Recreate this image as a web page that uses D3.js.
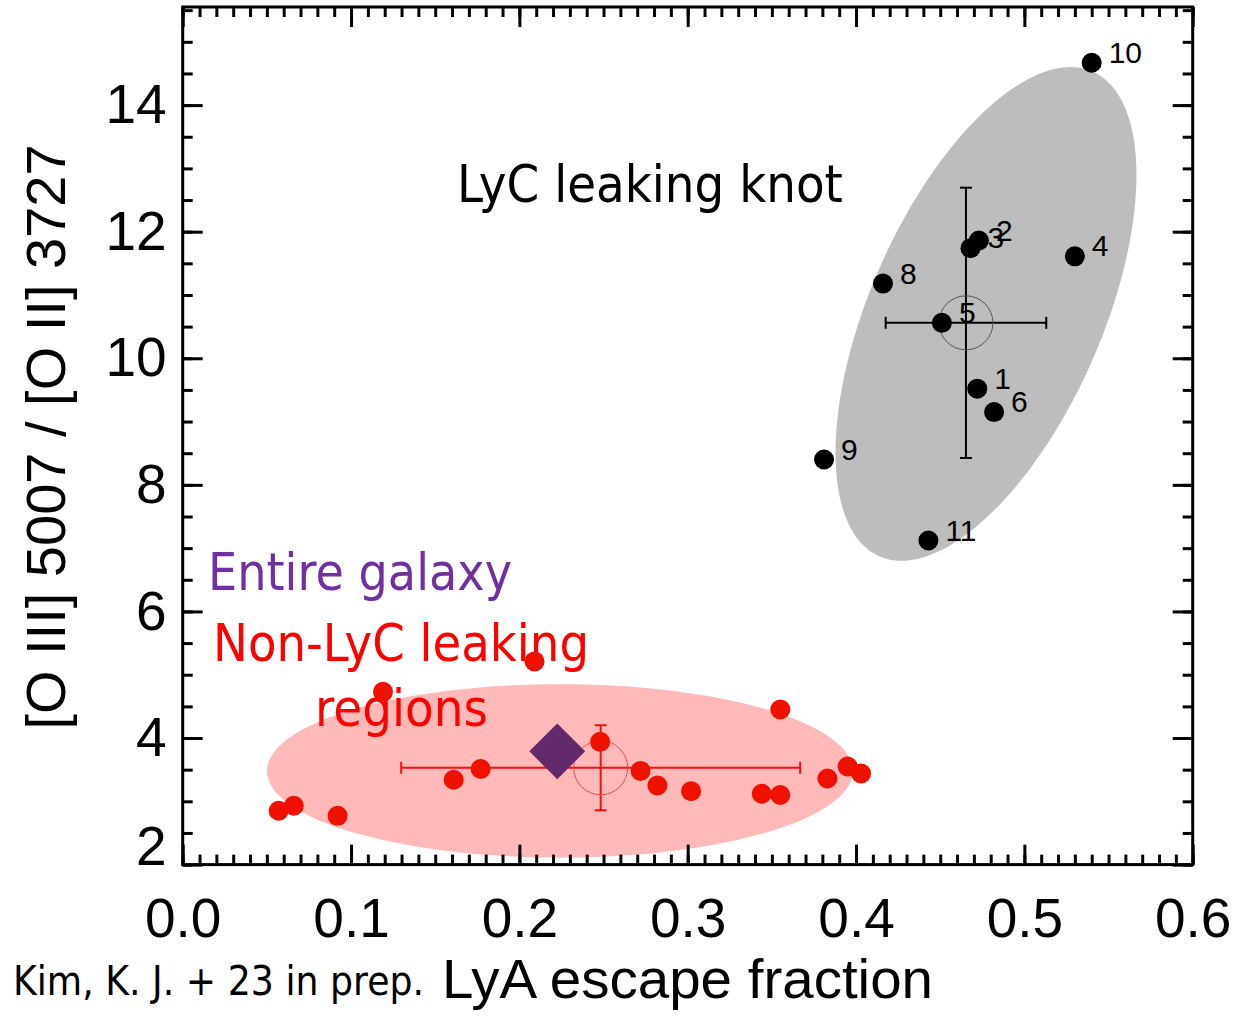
<!DOCTYPE html>
<html>
<head>
<meta charset="utf-8">
<style>
  body { margin: 0; background: #fff; }
  text { font-family: "Liberation Sans", Arial, sans-serif; }
</style>
</head>
<body>
<script src="https://cdn.jsdelivr.net/npm/d3@7"></script>
<script>

// *** DATA ***

// LyC leaking knot (black points, numbered)
var knotId = [1, 2, 3, 4, 5, 6, 8, 9, 10, 11];
var knotX  = [0.472, 0.473, 0.468, 0.530, 0.451, 0.482, 0.416, 0.381, 0.540, 0.443];
var knotY  = [9.52, 11.86, 11.74, 11.61, 10.56, 9.15, 11.18, 8.40, 14.67, 7.12];

// Non-LyC leaking regions (red points)
var regionX = [0.057, 0.066, 0.092, 0.119, 0.161, 0.177, 0.209, 0.248, 0.272,
               0.282, 0.302, 0.344, 0.355, 0.355, 0.383, 0.395, 0.403];
var regionY = [2.85, 2.93, 2.77, 4.73, 3.34, 3.51, 5.21, 3.94, 3.48,
               3.25, 3.16, 3.12, 3.10, 4.45, 3.36, 3.55, 3.44];

// Entire galaxy (diamond)
var galaxyX = [0.2225];
var galaxyY = [3.79];

// Means with errors: [x, y, xerr, yerr]
var knotMean   = [0.4653, 10.56, 0.0477, 2.135];
var regionMean = [0.2483, 3.53, 0.1185, 0.672];

// Ellipses: center, then two semi-axis vectors (data units)
var knotEllipse   = {c: [0.4772, 10.70], u: [0.0633, 3.83], v: [0.0631, -0.736]};
var regionEllipse = {c: [0.2241, 3.48],  u: [0.174, 0],     v: [0, 1.37]};

// Ticks
var xMajor = [0, 0.1, 0.2, 0.3, 0.4, 0.5, 0.6];
var xMinor = d3.range(0, 61).map(function(i){ return i / 100; });
var yMajor = [2, 4, 6, 8, 10, 12, 14];
var yMinor = d3.range(4, 32).map(function(i){ return i / 2; });

// *** SETUP ***

var W = 1237, H = 1016;
var pLeft = 182.7, pRight = 1192.7, pTop = 7, pBottom = 864.6;

var x = d3.scaleLinear().domain([0, 0.6]).range([pLeft, pRight]);
var y = d3.scaleLinear().domain([2, 15.55]).range([pBottom, pTop]);

var svg = d3.select("body").append("svg")
  .attr("width", W)
  .attr("height", H);

// FUNCTION: ellipse path from center + semi-axis vectors
function ellipsePath(e) {
  var pts = d3.range(0, 360, 2).map(function(a) {
    var t = a * Math.PI / 180;
    return [x(e.c[0] + e.u[0] * Math.cos(t) + e.v[0] * Math.sin(t)),
            y(e.c[1] + e.u[1] * Math.cos(t) + e.v[1] * Math.sin(t))];
  });
  return d3.line().curve(d3.curveCardinalClosed)(pts);
}

// ELLIPSES
svg.append("path").attr("d", ellipsePath(knotEllipse)).style("fill", "#bdbdbd");
svg.append("path").attr("d", ellipsePath(regionEllipse)).style("fill", "#ffb9b9");

// ANNOTATIONS (Tahoma-like)
function note(txt, tx, ty, size, len, color, anchor) {
  svg.append("text")
    .attr("x", tx).attr("y", ty)
    .attr("textLength", len)
    .attr("lengthAdjust", "spacingAndGlyphs")
    .attr("text-anchor", anchor || "start")
    .style("font-family", "'DejaVu Sans', Verdana, sans-serif")
    .style("font-size", size + "px")
    .style("fill", color)
    .text(txt);
}
note("LyC leaking knot", 457, 202, 52, 386, "#000");
note("Entire galaxy", 208, 590, 52, 304, "#7030a0");
note("Non-LyC leaking", 213, 661, 52, 376, "#ff0000");
note("regions", 315, 726, 52, 173, "#ff0000");
note("Kim, K. J. + 23 in prep.", 13, 995, 41, 411, "#000");

// ERROR BARS + CIRCLES
function meanMark(m, color, circColor) {
  var g = svg.append("g").style("stroke", color).style("stroke-width", 2).style("fill", "none");
  var cx = x(m[0]), cy = y(m[1]);
  var x0 = x(m[0] - m[2]), x1 = x(m[0] + m[2]);
  var y0 = y(m[1] - m[3]), y1 = y(m[1] + m[3]);
  g.append("line").attr("x1", x0).attr("x2", x1).attr("y1", cy).attr("y2", cy);
  g.append("line").attr("x1", x0).attr("x2", x0).attr("y1", cy - 6).attr("y2", cy + 6);
  g.append("line").attr("x1", x1).attr("x2", x1).attr("y1", cy - 6).attr("y2", cy + 6);
  g.append("line").attr("x1", cx).attr("x2", cx).attr("y1", y0).attr("y2", y1);
  g.append("line").attr("x1", cx - 6).attr("x2", cx + 6).attr("y1", y0).attr("y2", y0);
  g.append("line").attr("x1", cx - 6).attr("x2", cx + 6).attr("y1", y1).attr("y2", y1);
  g.append("circle").attr("cx", cx).attr("cy", cy).attr("r", 27)
    .style("stroke", circColor).style("stroke-width", 1);
}
meanMark(knotMean, "#000", "#555");
meanMark(regionMean, "#f01010", "#f24a4a");

// POINTS
var knots = knotId.map(function(d, i){ return {id: d, x: knotX[i], y: knotY[i]}; });
var regions = regionX.map(function(d, i){ return {x: d, y: regionY[i]}; });

svg.append("g").selectAll("circle").data(regions).enter()
  .append("circle")
    .attr("cx", function(d){ return x(d.x); })
    .attr("cy", function(d){ return y(d.y); })
    .attr("r", 10)
    .style("fill", "#ee1100");

svg.append("g").selectAll("circle").data(knots).enter()
  .append("circle")
    .attr("cx", function(d){ return x(d.x); })
    .attr("cy", function(d){ return y(d.y); })
    .attr("r", 10)
    .style("fill", "#000");

svg.append("g").selectAll("text").data(knots).enter()
  .append("text")
    .attr("x", function(d){ return x(d.x) + 17; })
    .attr("y", function(d){ return y(d.y); })
    .style("font-size", "30px")
    .text(function(d){ return d.id; });

// DIAMOND
svg.append("g").selectAll("path").data(galaxyX).enter()
  .append("path")
    .attr("d", d3.symbol().type(d3.symbolSquare).size(1560))
    .attr("transform", function(d, i){
      return "translate(" + x(d) + "," + y(galaxyY[i]) + ") rotate(45)";
    })
    .style("fill", "#622a6b");

// AXES
function styleAxis(g) {
  g.select(".domain").remove();
  g.selectAll(".tick line").style("stroke", "#000").style("stroke-width", 3);
  g.selectAll(".tick text").style("font-size", "55px").style("fill", "#000")
    .style("font-family", "'Liberation Sans', Arial, sans-serif");
}

svg.append("g").attr("transform", "translate(0," + pBottom + ")")
  .call(d3.axisBottom(x).tickValues(xMinor).tickSize(-10).tickFormat(""))
  .call(styleAxis);
svg.append("g").attr("transform", "translate(0," + pBottom + ")")
  .call(d3.axisBottom(x).tickValues(xMajor).tickSize(-20).tickPadding(33).tickFormat(d3.format(".1f")))
  .call(styleAxis);
svg.append("g").attr("transform", "translate(0," + pTop + ")")
  .call(d3.axisTop(x).tickValues(xMinor).tickSize(-10).tickFormat(""))
  .call(styleAxis);
svg.append("g").attr("transform", "translate(0," + pTop + ")")
  .call(d3.axisTop(x).tickValues(xMajor).tickSize(-20).tickFormat(""))
  .call(styleAxis);

svg.append("g").attr("transform", "translate(" + pLeft + ",0)")
  .call(d3.axisLeft(y).tickValues(yMinor).tickSize(-10).tickFormat(""))
  .call(styleAxis);
var yAx = svg.append("g").attr("transform", "translate(" + pLeft + ",0)")
  .call(d3.axisLeft(y).tickValues(yMajor).tickSize(-20).tickPadding(16).tickFormat(d3.format("d")))
  .call(styleAxis);
// bottom label sits on the axis line
yAx.selectAll(".tick text").filter(function(d){ return d === 2; }).attr("dy", "0em");

svg.append("g").attr("transform", "translate(" + pRight + ",0)")
  .call(d3.axisRight(y).tickValues(yMinor).tickSize(-10).tickFormat(""))
  .call(styleAxis);
svg.append("g").attr("transform", "translate(" + pRight + ",0)")
  .call(d3.axisRight(y).tickValues(yMajor).tickSize(-20).tickFormat(""))
  .call(styleAxis);

// FRAME
svg.append("rect")
  .attr("x", pLeft).attr("y", pTop)
  .attr("width", pRight - pLeft).attr("height", pBottom - pTop)
  .style("fill", "none").style("stroke", "#000").style("stroke-width", 3);

// AXIS TITLES
svg.append("text")
  .attr("x", 442).attr("y", 998)
  .attr("textLength", 491)
  .attr("lengthAdjust", "spacingAndGlyphs")
  .style("font-size", "56px")
  .text("LyA escape fraction");

svg.append("text")
  .attr("transform", "translate(65," + 437 + ") rotate(-90)")
  .attr("text-anchor", "middle")
  .style("font-size", "56px")
  .text("[O III] 5007 / [O II] 3727");

</script>
</body>
</html>
